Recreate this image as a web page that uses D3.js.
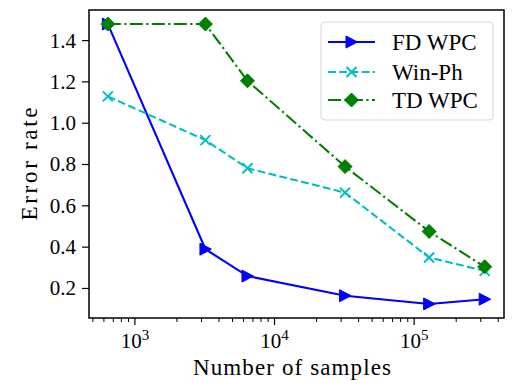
<!DOCTYPE html>
<html>
<head>
<meta charset="utf-8">
<script src="https://cdn.jsdelivr.net/npm/d3@7"></script>
</head>
<body style="margin:0">
<svg id="chart" width="512" height="390"></svg>
<script>
// data
const samples = [640, 3200, 6400, 32000, 128000, 320000];
const fdWpc = [1.48, 0.39, 0.26, 0.165, 0.125, 0.148];
const winPh = [1.13, 0.918, 0.782, 0.664, 0.35, 0.285];
const tdWpc = [1.48, 1.48, 1.205, 0.79, 0.476, 0.305];
const yTicks = [0.2, 0.4, 0.6, 0.8, 1.0, 1.2, 1.4];
const xMajor = [1e3, 1e4, 1e5];

const series = [
  { name: "FD WPC", values: fdWpc, color: "#0000ff", dash: null, marker: "tri" },
  { name: "Win-Ph", values: winPh, color: "#00bfbf", dash: "7.8,3.4", marker: "x" },
  { name: "TD WPC", values: tdWpc, color: "#008000", dash: "13,3.4,2.2,3.4", marker: "dia" },
];

const FONT = "'Liberation Serif', 'Times New Roman', serif";
const mLeft = 89, mRight = 504, mTop = 10, mBottom = 318;
const svg = d3.select("#chart");

const x = d3.scaleLog().domain([469, 440000]).range([mLeft, mRight]);
const y = d3.scaleLinear().domain([0.057, 1.548]).range([mBottom, mTop]);

function label(sel, size) {
  return sel.style("font-family", FONT).style("font-size", size + "px").attr("fill", "#000");
}

// minor ticks for log axis
const xMinor = [];
for (let e = 2; e <= 5; e++) {
  for (let m = 2; m < 10; m++) {
    const v = m * Math.pow(10, e);
    if (v >= x.domain()[0] && v <= x.domain()[1]) xMinor.push(v);
  }
}

const ax = svg.append("g");
ax.selectAll(".xminor").data(xMinor).enter().append("line")
  .attr("x1", d => x(d)).attr("x2", d => x(d))
  .attr("y1", mBottom).attr("y2", mBottom + 4)
  .attr("stroke", "#000").attr("stroke-width", 1);
ax.selectAll(".xmajor").data(xMajor).enter().append("line")
  .attr("x1", d => x(d)).attr("x2", d => x(d))
  .attr("y1", mBottom).attr("y2", mBottom + 7)
  .attr("stroke", "#000").attr("stroke-width", 1.2);
const xl = label(ax.selectAll(".xlab").data(xMajor).enter().append("text")
  .attr("x", d => x(d)).attr("y", 348)
  .attr("text-anchor", "middle"), 21);
label(xl.append("tspan"), 21).text("10");
label(xl.append("tspan").attr("dy", -8), 15)
  .text(d => Math.round(Math.log10(d)));

ax.selectAll(".ytick").data(yTicks).enter().append("line")
  .attr("x1", mLeft - 7).attr("x2", mLeft)
  .attr("y1", d => y(d)).attr("y2", d => y(d))
  .attr("stroke", "#000").attr("stroke-width", 1.2);
label(ax.selectAll(".ylab").data(yTicks).enter().append("text")
  .attr("x", mLeft - 13).attr("y", d => y(d)).attr("dy", "0.33em")
  .attr("text-anchor", "end"), 21)
  .text(d => d3.format(".1f")(d));

label(svg.append("text").attr("x", 292).attr("y", 375)
  .attr("text-anchor", "middle"), 23)
  .attr("textLength", 198).attr("lengthAdjust", "spacing")
  .text("Number of samples");
label(svg.append("text")
  .attr("transform", "translate(37," + ((mTop + mBottom) / 2) + ") rotate(-90)")
  .attr("text-anchor", "middle"), 23)
  .attr("textLength", 113).attr("lengthAdjust", "spacing")
  .text("Error rate");

function drawMarker(g, kind, color) {
  if (kind === "tri") {
    g.append("path").attr("d", "M6,0L-5.5,-6L-5.5,6Z")
      .attr("fill", color).attr("stroke", color).attr("stroke-width", 1);
  } else if (kind === "x") {
    g.append("path").attr("d", "M-5,-5L5,5M-5,5L5,-5")
      .attr("fill", "none").attr("stroke", color).attr("stroke-width", 2);
  } else {
    g.append("path").attr("d", "M0,-7L7,0L0,7L-7,0Z")
      .attr("fill", color).attr("stroke", color).attr("stroke-width", 1);
  }
}

const line = d3.line().x(d => x(d[0])).y(d => y(d[1]));
const plot = svg.append("g");
series.forEach(s => {
  const pts = samples.map((v, i) => [v, s.values[i]]);
  plot.append("path").attr("d", line(pts))
    .attr("fill", "none").attr("stroke", s.color).attr("stroke-width", 2.1)
    .attr("stroke-dasharray", s.dash);
  pts.forEach(p => {
    const g = plot.append("g").attr("transform", "translate(" + x(p[0]) + "," + y(p[1]) + ")");
    drawMarker(g, s.marker, s.color);
  });
});

// frame
svg.append("rect").attr("x", mLeft).attr("y", mTop)
  .attr("width", mRight - mLeft).attr("height", mBottom - mTop)
  .attr("fill", "none").attr("stroke", "#000").attr("stroke-width", 1.5);

// legend
const lg = svg.append("g");
lg.append("rect").attr("x", 321).attr("y", 22).attr("width", 172).attr("height", 98)
  .attr("rx", 4).attr("fill", "#fff").attr("fill-opacity", 0.8)
  .attr("stroke", "#d6d6d6").attr("stroke-width", 1);
const rowY = [42, 72, 100];
series.forEach((s, i) => {
  const ry = rowY[i];
  lg.append("line").attr("x1", 328).attr("x2", 375).attr("y1", ry).attr("y2", ry)
    .attr("stroke", s.color).attr("stroke-width", 2.1).attr("stroke-dasharray", s.dash);
  drawMarker(lg.append("g").attr("transform", "translate(351.5," + ry + ")"), s.marker, s.color);
  label(lg.append("text").attr("x", 392).attr("y", ry).attr("dy", "0.33em"), 23)
    .text(s.name);
});
</script>
</body>
</html>
